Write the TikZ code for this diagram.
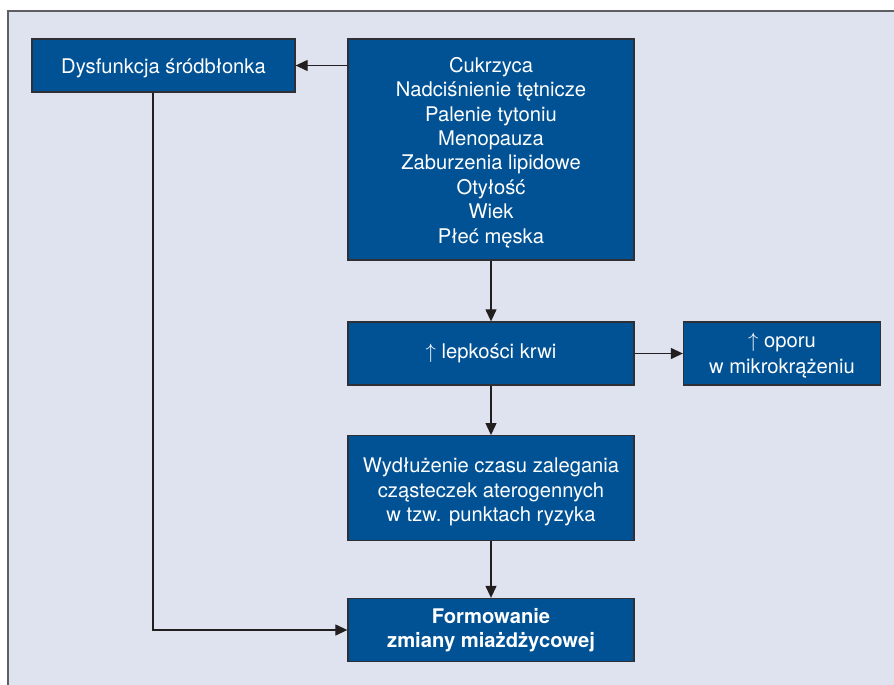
\documentclass[tikz,border=0pt]{standalone}
\usepackage{fontspec}
\setmainfont{TeX Gyre Heros}
\usetikzlibrary{arrows.meta}
\definecolor{bgc}{HTML}{DFE3F0}
\definecolor{boxc}{HTML}{005295}
\definecolor{framec}{HTML}{5E5E63}
\definecolor{linec}{HTML}{231F20}
\definecolor{edgec}{HTML}{2E3036}
\newcommand\topgap[1]{\rule{0pt}{#1}}
\tikzset{
  box/.style={draw=edgec, line width=1.3pt, fill=boxc, text=white, align=center,
    inner sep=0pt, font=\fontsize{20.2}{24.4}\selectfont},
  conn/.style={draw=linec, line width=1.2pt, -{Triangle[length=12pt,width=11pt]}},
}
\begin{document}
\begin{tikzpicture}[x=1pt,y=-1pt]
\useasboundingbox (0,0) rectangle (894,685);
\fill[bgc] (8,11) rectangle (894,685);
\draw[framec, line width=2.6pt] (8,685) -- (8,11) -- (894,11);

\node[box, minimum width=263pt, minimum height=53pt] (dys) at (163.5,65.5) {\topgap{19.5pt}Dysfunkcja śródbłonka};
\node[box, minimum width=286pt, minimum height=221pt] (risk) at (491,149.5)
  {\topgap{21pt}Cukrzyca\\Nadciśnienie tętnicze\\Palenie tytoniu\\Menopauza\\Zaburzenia lipidowe\\Otyłość\\Wiek\\Płeć męska};
\node[box, minimum width=286pt, minimum height=63pt] (lep) at (491,353.5) {$\uparrow$\ lepkości krwi};
\node[box, minimum width=197pt, minimum height=63pt, font=\fontsize{20.2}{26}\selectfont] (opor) at (782,353.5) {\topgap{18pt}$\uparrow$\ oporu\\w mikrokrążeniu};
\node[box, minimum width=286pt, minimum height=105pt] (wyd) at (491,488.2)
  {\topgap{22pt}Wydłużenie czasu zalegania\\cząsteczek aterogennych\\w tzw. punktach ryzyka};
\node[box, minimum width=286pt, minimum height=63pt, font=\fontsize{20.2}{24.4}\selectfont\bfseries] (form) at (491,630)
  {Formowanie\\zmiany miażdżycowej};

\coordinate (bend) at (153,630);

\draw[conn] (risk.west |- dys.east) -- (dys.east);
\draw[conn] (risk.south) -- (lep.north);
\draw[conn] (lep.east) -- (opor.west);
\draw[conn] (lep.south) -- (wyd.north);
\draw[conn] (wyd.south) -- (form.north);
\draw[conn] (bend |- dys.south) -- (bend) -- (form.west);
\end{tikzpicture}
\end{document}
